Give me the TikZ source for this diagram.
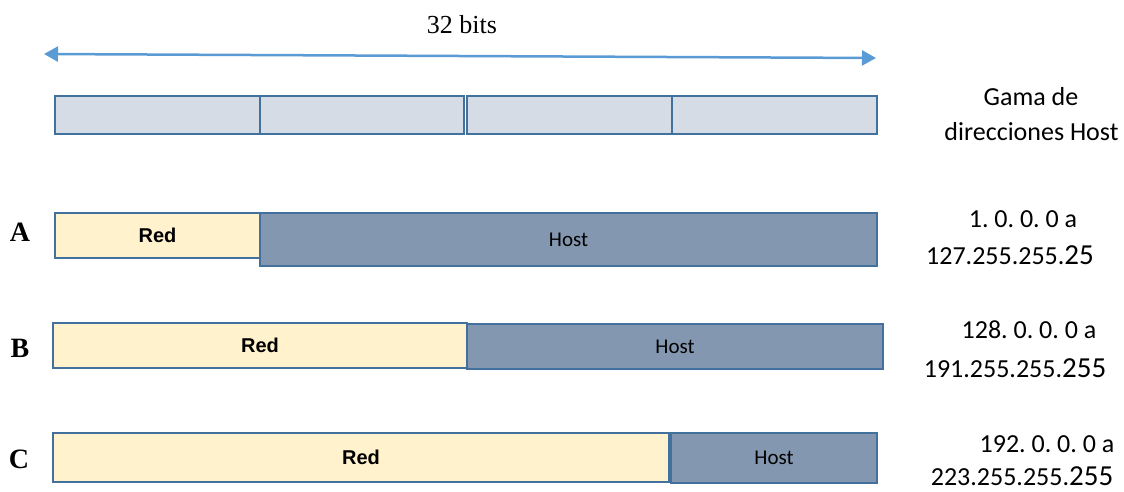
\documentclass[tikz,border=0pt]{standalone}
\usepackage{fontspec}
\setmainfont{Liberation Serif}
\newfontfamily\calib{Carlito}
\newfontfamily\arialf{Liberation Sans}
\usetikzlibrary{arrows.meta}
\definecolor{bordc}{HTML}{41719C}
\definecolor{topfill}{HTML}{D6DCE5}
\definecolor{redfill}{HTML}{FFF2CC}
\definecolor{hostfill}{HTML}{8497B0}
\definecolor{arrc}{HTML}{5B9BD5}
\tikzset{
  seg/.style={draw=bordc, line width=2.5pt, rectangle, inner sep=0pt},
  topseg/.style={seg, fill=topfill},
  redseg/.style={seg, fill=redfill, font={\arialf\bfseries\fontsize{20}{23}\selectfont}},
  hostseg/.style={seg, fill=hostfill, font={\calib\fontsize{21}{24}\selectfont}},
  rowlab/.style={font={\bfseries\fontsize{28}{30}\selectfont}, inner sep=0pt},
  rtxt/.style={font={\calib\fontsize{26}{30}\selectfont}, inner sep=0pt, anchor=base},
  bitarrow/.style={draw=arrc, line width=2.5pt, {Triangle[length=14pt,width=15pt]}-{Triangle[length=14pt,width=15pt]}}
}
\newcommand{\lastgrp}[1]{{\fontsize{29}{30}\selectfont #1}}
\frenchspacing
\begin{document}
\begin{tikzpicture}[x=1pt,y=-1pt]
\useasboundingbox (0,0) rectangle (1124,491);
% arrow
\coordinate (al) at (44,54);
\coordinate (ar) at (876,58);
\draw[bitarrow] (al) -- (ar);
\node[font={\fontsize{26}{30}\selectfont}, anchor=base, inner sep=0pt] (bits) at (462,33) {32 bits};
% top bar
\node[topseg, minimum width=205pt, minimum height=38pt] (t1) at (157.5,115) {};
\node[topseg, minimum width=204pt, minimum height=38pt] (t2) at (362,115) {};
\node[topseg, minimum width=205pt, minimum height=38pt] (t3) at (569.5,115) {};
\node[topseg, minimum width=205pt, minimum height=38pt] (t4) at (774.5,115) {};
% A
\node[rowlab] (la) at (20,232) {A};
\node[redseg, minimum width=205pt, minimum height=45pt] (ra) at (157.5,235.5) {Red};
\node[hostseg, minimum width=617pt, minimum height=53pt] (ha) at (568.5,239.5) {Host};
% B
\node[rowlab] (lb) at (20,348) {B};
\node[redseg, minimum width=414pt, minimum height=45pt] (rb) at (260,345.5) {Red};
\node[hostseg, minimum width=416pt, minimum height=45pt] (hb) at (675,346.5) {Host};
% C
\node[rowlab] (lc) at (19,459) {C};
\node[redseg, minimum width=616pt, minimum height=49pt] (rc) at (361,457.5) {Red};
\node[hostseg, minimum width=206pt, minimum height=50pt] (hc) at (774,458) {Host};
% right text
\node[rtxt] (g1) at (1031,105) {Gama de};
\node[rtxt] (g2) at (1031.5,140) {direcciones Host};
\node[rtxt] (a1) at (1023,227) {1. 0. 0. 0 a};
\node[rtxt] (a2) at (1010,264) {127.255.255.\lastgrp{25}};
\node[rtxt] (b1) at (1029,338) {128. 0. 0. 0 a};
\node[rtxt] (b2) at (1015,377) {191.255.255.\lastgrp{255}};
\node[rtxt] (c1) at (1047,452) {192. 0. 0. 0 a};
\node[rtxt] (c2) at (1022,485) {223.255.255.\lastgrp{255}};
\end{tikzpicture}
\end{document}
